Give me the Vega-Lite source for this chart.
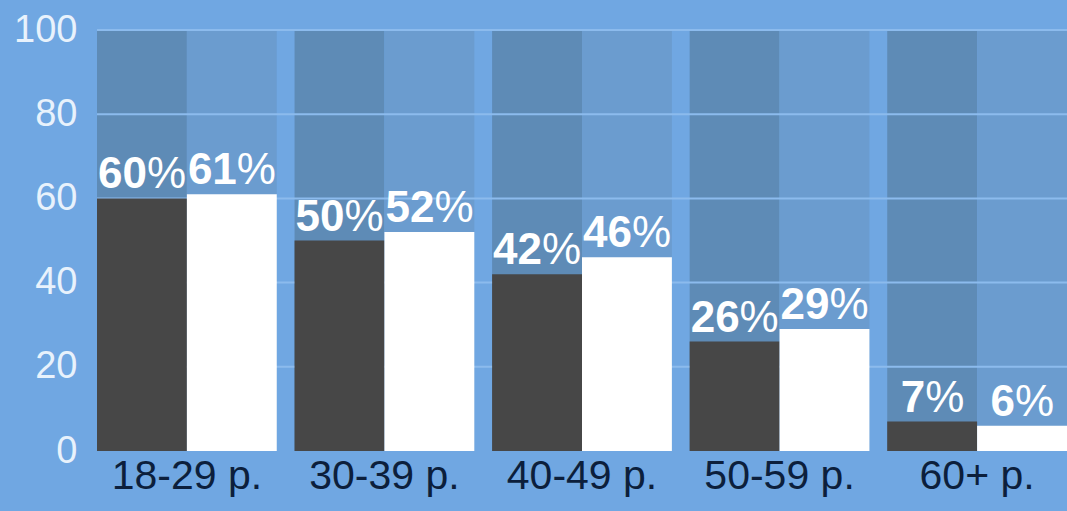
{
  "$schema": "https://vega.github.io/schema/vega-lite/v6.json",
  "width": 970,
  "height": 421,
  "autosize": {"type": "none"},
  "padding": {"left": 97, "top": 30, "right": 0, "bottom": 60},
  "background": "#70a7e2",
  "config": {"view": {"stroke": null}, "font": "Liberation Sans"},
  "datasets": {
    "bars": [
      {"group": "18-29 р.", "series": "A", "value": 60},
      {"group": "18-29 р.", "series": "B", "value": 61},
      {"group": "30-39 р.", "series": "A", "value": 50},
      {"group": "30-39 р.", "series": "B", "value": 52},
      {"group": "40-49 р.", "series": "A", "value": 42},
      {"group": "40-49 р.", "series": "B", "value": 46},
      {"group": "50-59 р.", "series": "A", "value": 26},
      {"group": "50-59 р.", "series": "B", "value": 29},
      {"group": "60+ р.", "series": "A", "value": 7},
      {"group": "60+ р.", "series": "B", "value": 6}
    ],
    "grid": [{"g": 20}, {"g": 40}, {"g": 60}, {"g": 80}, {"g": 100}]
  },
  "layer": [
    {
      "data": {"name": "bars"},
      "mark": {"type": "bar"},
      "encoding": {
        "x": {"field": "group", "type": "nominal", "sort": null,
          "scale": {"paddingInner": 0.09, "paddingOuter": 0},
          "axis": {"title": null, "labelAngle": 0, "labelFontSize": 41, "labelColor": "#0c1f3c", "ticks": false, "domain": false, "labelPadding": 5}},
        "xOffset": {"field": "series", "type": "nominal", "scale": {"paddingInner": 0, "paddingOuter": 0}},
        "y": {"datum": 100, "type": "quantitative",
          "scale": {"domain": [0, 100], "nice": false},
          "axis": {"title": null, "values": [0, 20, 40, 60, 80, 100], "labelFontSize": 38, "labelColor": "#e8f2fc", "ticks": false, "domain": false, "grid": false, "labelPadding": 20}},
        "y2": {"datum": 0},
        "color": {"condition": {"test": "datum.series === 'A'", "value": "#5e8bb6"}, "value": "#6b9ccf"}
      }
    },
    {
      "data": {"name": "grid"},
      "mark": {"type": "rule", "color": "#8cbbed", "strokeWidth": 2},
      "encoding": {
        "y": {"field": "g", "type": "quantitative"}
      }
    },
    {
      "data": {"name": "bars"},
      "mark": {"type": "bar"},
      "encoding": {
        "x": {"field": "group", "type": "nominal", "sort": null},
        "xOffset": {"field": "series", "type": "nominal"},
        "y": {"field": "value", "type": "quantitative"},
        "color": {"condition": {"test": "datum.series === 'A'", "value": "#474747"}, "value": "#ffffff"}
      }
    },
    {
      "data": {"name": "bars"},
      "transform": [{"filter": "datum.value >= 10"}],
      "mark": {"type": "text", "fontSize": 44, "fontWeight": "bold", "color": "#ffffff", "baseline": "alphabetic", "align": "right", "dx": 5, "dy": -10},
      "encoding": {
        "x": {"field": "group", "type": "nominal", "sort": null},
        "xOffset": {"field": "series", "type": "nominal"},
        "y": {"field": "value", "type": "quantitative"},
        "text": {"field": "value", "type": "quantitative", "format": "d"}
      }
    },
    {
      "data": {"name": "bars"},
      "transform": [{"filter": "datum.value >= 10"}],
      "mark": {"type": "text", "fontSize": 44, "fontWeight": "normal", "color": "#ffffff", "baseline": "alphabetic", "align": "left", "dx": 5, "dy": -10, "text": "%"},
      "encoding": {
        "x": {"field": "group", "type": "nominal", "sort": null},
        "xOffset": {"field": "series", "type": "nominal"},
        "y": {"field": "value", "type": "quantitative"}
      }
    },
    {
      "data": {"name": "bars"},
      "transform": [{"filter": "datum.value < 10"}],
      "mark": {"type": "text", "fontSize": 44, "fontWeight": "bold", "color": "#ffffff", "baseline": "alphabetic", "align": "right", "dx": -7, "dy": -10},
      "encoding": {
        "x": {"field": "group", "type": "nominal", "sort": null},
        "xOffset": {"field": "series", "type": "nominal"},
        "y": {"field": "value", "type": "quantitative"},
        "text": {"field": "value", "type": "quantitative", "format": "d"}
      }
    },
    {
      "data": {"name": "bars"},
      "transform": [{"filter": "datum.value < 10"}],
      "mark": {"type": "text", "fontSize": 44, "fontWeight": "normal", "color": "#ffffff", "baseline": "alphabetic", "align": "left", "dx": -7, "dy": -10, "text": "%"},
      "encoding": {
        "x": {"field": "group", "type": "nominal", "sort": null},
        "xOffset": {"field": "series", "type": "nominal"},
        "y": {"field": "value", "type": "quantitative"}
      }
    }
  ]
}
